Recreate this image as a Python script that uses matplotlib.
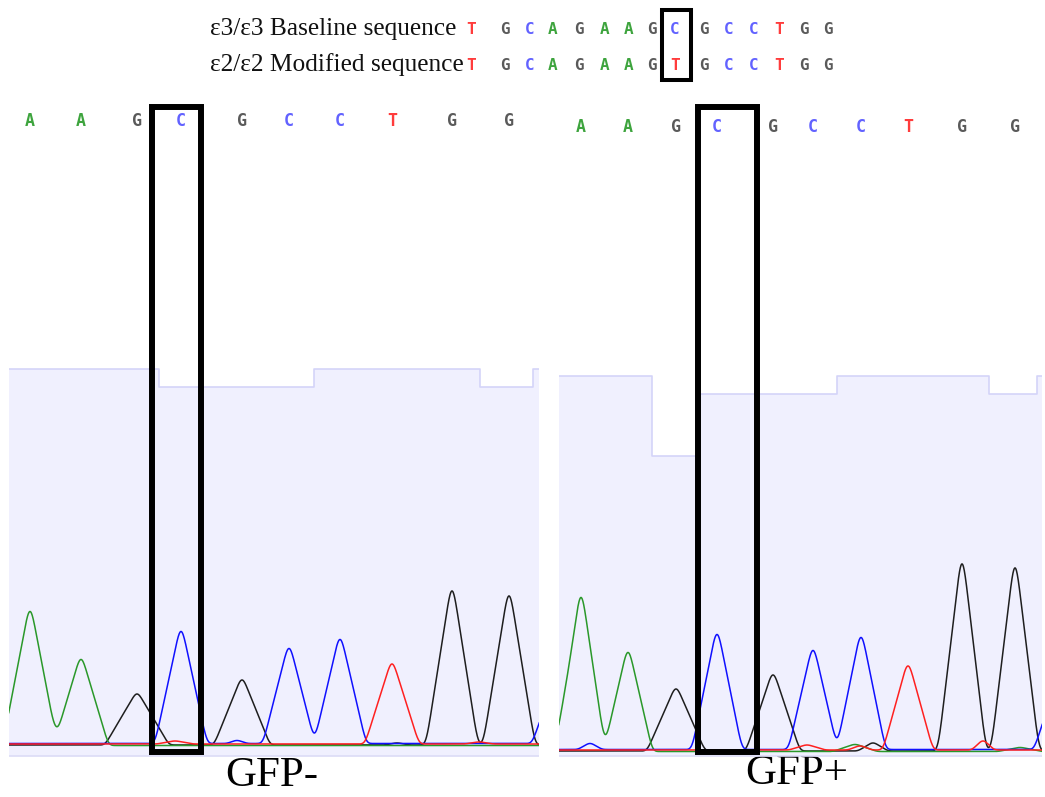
import matplotlib
matplotlib.use('Agg')
import matplotlib.pyplot as plt
import numpy as np
from matplotlib.patches import Rectangle

W, H = 1045, 797

trace_colors = {'A': '#2a982a', 'C': '#1010ff', 'G': '#1e1e1e', 'T': '#ff2020'}
letter_colors = {'A': '#3ea43e', 'C': '#6262ff', 'G': '#5a5a5a', 'T': '#ff3c3c'}

# reference sequences shown above the traces
header_labels = ['ε3/ε3 Baseline sequence', 'ε2/ε2 Modified sequence']
header_seqs = ['TGCAGAAGCGCCTGG', 'TGCAGAAGTGCCTGG']
header_x = [471, 505, 530, 553, 579, 605, 629, 652, 675, 704, 729, 754, 779, 804, 828]

# GFP- trace: base calls, peak position (scan), peak height, half base width
left_bases = 'AAGCGCCTGG'
left_pos = [21, 72, 128, 172, 233, 280, 331, 383, 443, 500]
left_height = [134, 86, 51, 112, 65, 95, 104, 80, 154, 149]
left_width = [27.5, 27.5, 32, 26, 28, 26, 26, 27, 26, 26]
left_next_pos = 549
left_quality = [375, 375, 375, 357, 357, 357, 375, 375, 375, 357, 375]
# neighbour bases outside the window and small secondary peaks
left_extra = [('C', 549, 68, 26), ('C', 228, 3, 10), ('T', 166, 3, 18),
              ('G', 388, 2, 12), ('T', 470, 2, 14)]

# GFP+ trace
right_bases = 'AAGCGCCTGG'
right_pos = [22, 69, 117, 158, 214, 254, 302, 349, 403, 456]
right_height = [154, 99, 62, 115, 76, 99, 112, 84, 187, 183]
right_width = [24.5, 24.5, 29, 25, 27, 24.5, 24.5, 25, 24, 24]
right_next_pos = 500
right_quality = [374, 374, 294, 356, 356, 356, 374, 374, 374, 356, 374]
right_extra = [('A', -15, 22, 25), ('C', 500, 70, 25), ('C', 31, 6, 12),
               ('T', 248, 5, 18), ('A', 296, 7, 22), ('G', 314, 8, 15),
               ('T', 301, 4, 12), ('T', 424, 9, 11), ('A', 461, 4, 22)]

baseline_offset = {'A': -1.5, 'C': 0.5, 'G': -1, 'T': 0}
SMOOTH = 2.5


def px_axes(fig, x0, x1, y0, y1):
    return fig.add_axes([x0 / W, 1 - y1 / H, (x1 - x0) / W, (y1 - y0) / H])


def peak(x, p, h, w):
    # peaks in the trace are close to triangles; the smoothing below blunts
    # the apex a little, so lift it back to the read height
    h = h * w / (w - 0.8 * SMOOTH)
    return h * np.clip(1 - np.abs(x - p) / w, 0, None)


def draw_panel(ax, width, ybot, ytop, bases, pos, height, pwidth, next_pos,
               quality, extra, box, letter_y):
    ax.set_xlim(0, width)
    ax.set_ylim(ybot, ytop)
    ax.set_axis_off()

    # quality bars behind the traces
    allpos = list(pos) + [next_pos]
    edges = [0] + [(a + b) / 2 for a, b in zip(allpos[:-1], allpos[1:])] + [width]
    q = list(quality) + [quality[-1]]
    ax.fill_between(edges, ybot + 4, q, step='post', color='#f0f0fe', lw=0)
    ax.step(edges, q, where='post', color='#d4d4f8', lw=1.2)
    ax.axhline(ybot + 4, color='#dcdcf6', lw=1.2)

    dx = 0.25
    x = np.arange(-60, width + 60, dx)
    k = np.arange(-10, 10 + dx, dx)
    kernel = np.exp(-k ** 2 / (2 * SMOOTH ** 2))
    kernel /= kernel.sum()
    traces = {b: np.zeros_like(x) for b in 'ACGT'}
    for b, p, h, w in zip(bases, pos, height, pwidth):
        traces[b] += peak(x, p, h, w)
    for b, p, h, w in extra:
        traces[b] += peak(x, p, h, w)
    for b in 'GACT':
        y = np.convolve(traces[b], kernel, mode='same') + baseline_offset[b]
        ax.plot(x, y, color=trace_colors[b], lw=1.1)

    for b, p in zip(bases, pos):
        ax.text(p, letter_y, b, color=letter_colors[b], ha='center', va='center',
                fontsize=12, family='DejaVu Sans Mono', weight='bold')

    bx0, bx1, by0, by1 = box
    ax.add_patch(Rectangle((bx0, by0), bx1 - bx0, by1 - by0, fill=False,
                           ec='black', lw=4.3, joinstyle='miter', clip_on=False,
                           zorder=5))


fig = plt.figure(figsize=(W / 100, H / 100), dpi=100)

# left panel: scan 0 at x=9px, signal 0 at y=744px
ax1 = px_axes(fig, 9, 539, 95, 760)
draw_panel(ax1, 530, -16, 649, left_bases, left_pos, left_height, left_width,
           left_next_pos, left_quality, left_extra, (143, 192, -8, 637.5), 623)

# right panel: scan 0 at x=559px, signal 0 at y=750px
ax2 = px_axes(fig, 559, 1042, 95, 760)
draw_panel(ax2, 483, -10, 655, right_bases, right_pos, right_height, right_width,
           right_next_pos, right_quality, right_extra, (139, 197.5, -2, 643), 623)

top = fig.add_axes([0, 0, 1, 1], zorder=-1)
top.set_xlim(0, W)
top.set_ylim(H, 0)
top.set_axis_off()

for row, (label, seq) in enumerate(zip(header_labels, header_seqs)):
    y = 29 + 36 * row
    top.text(210, y, label, ha='left', va='center', fontsize=18.3,
             family='Liberation Serif', color='#111111')
    for xi, b in zip(header_x, seq):
        top.text(xi, y, b, color=letter_colors[b], ha='center', va='center',
                 fontsize=11.5, family='DejaVu Sans Mono', weight='bold')
top.add_patch(Rectangle((661.5, 10), 29, 70, fill=False, ec='black', lw=2.9,
                        joinstyle='miter'))

top.text(272, 776, 'GFP-', ha='center', va='center', fontsize=31,
         family='Liberation Serif')
top.text(797, 774, 'GFP+', ha='center', va='center', fontsize=31,
         family='Liberation Serif')

fig.savefig('out.png', dpi=100)
